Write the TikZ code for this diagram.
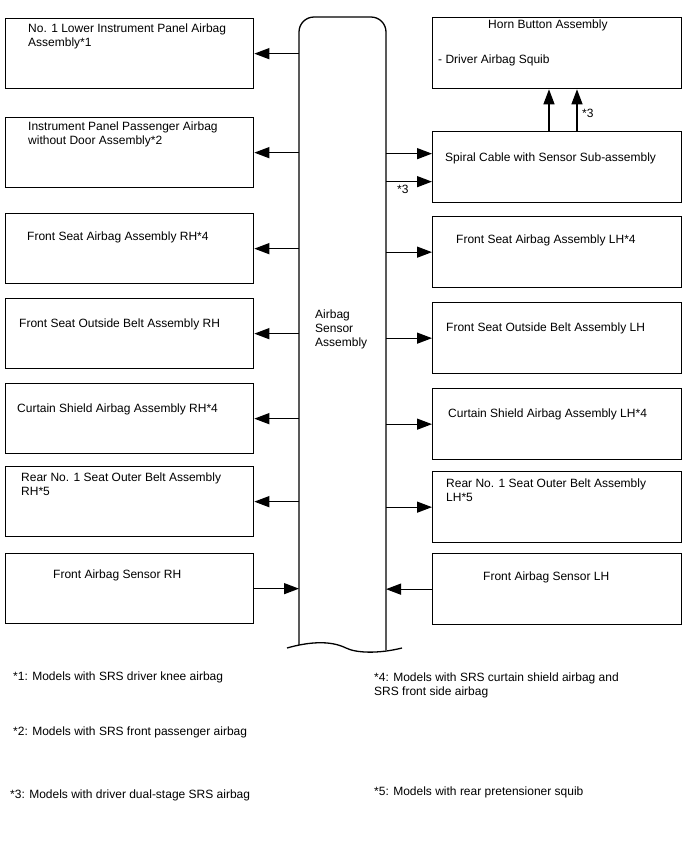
\documentclass[tikz,border=0pt]{standalone}
\usepackage{fontspec}
\setmainfont{Liberation Sans}
\usetikzlibrary{arrows.meta}
\begin{document}
\begin{tikzpicture}[x=1pt,y=-1pt,
  box/.style={draw=black,line width=1.3pt,minimum width=248pt,minimum height=70pt,anchor=north west,inner sep=0pt},
  rbox/.style={box,minimum width=249pt,minimum height=71pt},
  txt/.style={anchor=west,inner sep=0pt,align=left,font=\fontsize{12}{14}\selectfont},
  arr/.style={line width=1.3pt,-{Triangle[length=15pt,width=11pt]}},
  line/.style={line width=1.3pt}]
\useasboundingbox (0,0) rectangle (688,852);
% column
\coordinate (colL) at (299,0);
\coordinate (colR) at (386,0);
\draw[line,rounded corners=15pt] (299,645) -- (299,17) -- (386,17) -- (386,650);
\draw[line] (287,648) .. controls (308,642) and (330,640) .. (346,648) .. controls (356,653) and (378,654) .. (402,648);
\node[txt] (col) at (315,329) {Airbag\\Sensor\\Assembly};
% left boxes
\node[box] (L1) at (5,18) {};
\node[box] (L2) at (5,117) {};
\node[box] (L3) at (5,213) {};
\node[box] (L4) at (5,298) {};
\node[box] (L5) at (5,383) {};
\node[box] (L6) at (5,466) {};
\node[box] (L7) at (5,553) {};
\node[txt] (t1) at (28,36) {No. 1 Lower Instrument Panel Airbag\\Assembly*1};
\node[txt] (t2) at (28,134) {Instrument Panel Passenger Airbag\\without Door Assembly*2};
\node[txt] (t3) at (27,237) {Front Seat Airbag Assembly RH*4};
\node[txt] (t4) at (19,324) {Front Seat Outside Belt Assembly RH};
\node[txt] (t5) at (17,409) {Curtain Shield Airbag Assembly RH*4};
\node[txt] (t6) at (21,484) {Rear No. 1 Seat Outer Belt Assembly\\RH*5};
\node[txt] (t7) at (53,575) {Front Airbag Sensor RH};
% right boxes
\node[rbox] (H) at (432,17) {};
\node[rbox] (S) at (432,131) {};
\node[rbox] (R3) at (432,216) {};
\node[rbox] (R4) at (432,302) {};
\node[rbox] (R5) at (432,388) {};
\node[rbox] (R6) at (432,471) {};
\node[rbox] (R7) at (432,553) {};
\node[txt] (h1) at (488,25) {Horn Button Assembly};
\node[txt] (h2) at (438,60) {- Driver Airbag Squib};
\node[txt] (s1) at (445,158) {Spiral Cable with Sensor Sub-assembly};
\node[txt] (r3) at (456,240) {Front Seat Airbag Assembly LH*4};
\node[txt] (r4) at (446,328) {Front Seat Outside Belt Assembly LH};
\node[txt] (r5) at (448,414) {Curtain Shield Airbag Assembly LH*4};
\node[txt] (r6) at (446,490) {Rear No. 1 Seat Outer Belt Assembly\\LH*5};
\node[txt] (r7) at (483,577) {Front Airbag Sensor LH};
% left arrows
\foreach \b in {L1,L2,L3,L4,L5,L6} \draw[arr] (\b.east -| colL) -- (\b.east);
\draw[arr] (L7.east) -- (L7.east -| colL);
% right arrows
\coordinate (s1a) at ([yshift=-14.5pt]S.west);
\coordinate (s1b) at ([yshift=13.5pt]S.west);
\draw[arr] (s1a -| colR) -- (s1a);
\draw[arr] (s1b -| colR) -- (s1b);
\node[txt] (n3a) at (397,189) {*3};
\foreach \b in {R3,R4,R5,R6} \draw[arr] (\b.west -| colR) -- (\b.west);
\draw[arr] (R7.west) -- (R7.west -| colR);
% spiral to horn
\coordinate (ua) at (549,0);
\coordinate (ub) at (577,0);
\draw[arr] (S.north -| ua) -- (H.south -| ua);
\draw[arr] (S.north -| ub) -- (H.south -| ub);
\node[txt] (n3b) at (582,113) {*3};
% footnotes
\node[txt] (f1) at (13,677) {*1: Models with SRS driver knee airbag};
\node[txt] (f2) at (13,732) {*2: Models with SRS front passenger airbag};
\node[txt] (f3) at (10,795) {*3: Models with driver dual-stage SRS airbag};
\node[txt] (f4) at (374,685.5) {*4: Models with SRS curtain shield airbag and\\SRS front side airbag};
\node[txt] (f5) at (374,792) {*5: Models with rear pretensioner squib};
\end{tikzpicture}
\end{document}
